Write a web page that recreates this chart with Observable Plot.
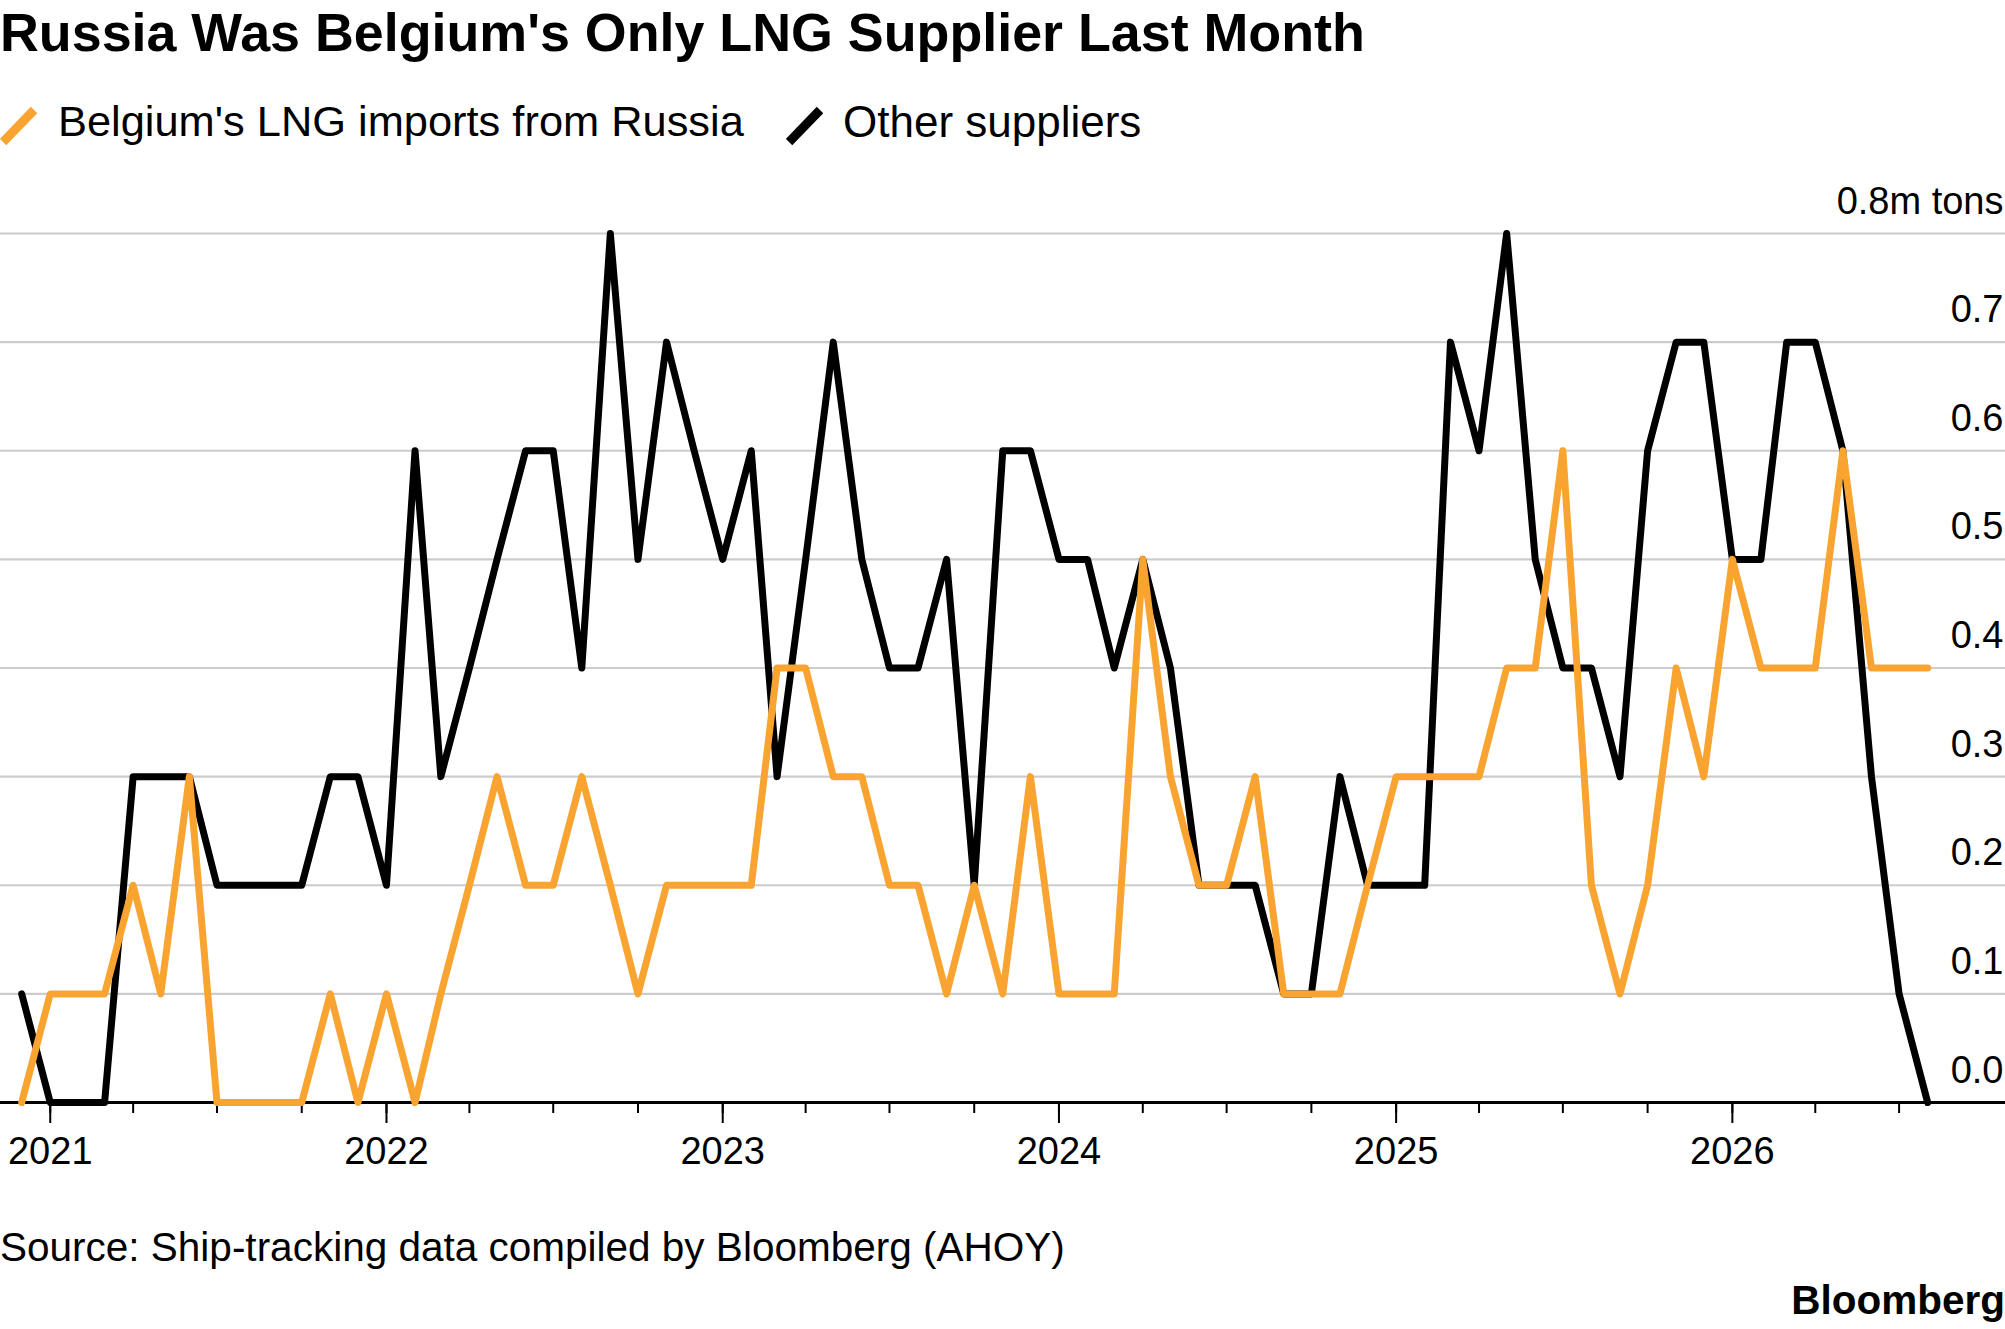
<!DOCTYPE html>
<html>
<head>
<meta charset="utf-8">
<script src="https://cdn.jsdelivr.net/npm/d3@7"></script>
<script src="https://cdn.jsdelivr.net/npm/@observablehq/plot@0.6"></script>
<style>
  html, body { margin: 0; padding: 0; background: #fff; }
  #wrap { position: relative; width: 2005px; height: 1329px; font-family: "Liberation Sans", Arial, Helvetica, sans-serif; color: #000; overflow: hidden; }
  .abs { position: absolute; line-height: 1; white-space: nowrap; }
  #title { left: 0; top: 6px; font-size: 53.8px; font-weight: bold; }
  .leg { top: 100px; font-size: 44px; }
  #source { left: 0; top: 1227px; font-size: 40.5px; }
  #brand { right: 0; top: 1280px; font-size: 40.5px; font-weight: bold; }
  #chart { position: absolute; left: 0; top: 150px; }
</style>
</head>
<body>
<div id="wrap">
  <div id="title" class="abs">Russia Was Belgium's Only LNG Supplier Last Month</div>
  <svg class="abs" style="left:0;top:105px" width="40" height="42"><line x1="3" y1="37" x2="34" y2="5" stroke="#f9a431" stroke-width="9"/></svg>
  <div class="abs leg" style="left:58px;font-size:43.4px">Belgium's LNG imports from Russia</div>
  <svg class="abs" style="left:786px;top:105px" width="40" height="42"><line x1="3" y1="37" x2="34" y2="5" stroke="#000" stroke-width="9"/></svg>
  <div class="abs leg" style="left:843px">Other suppliers</div>
  <div id="chart"></div>
  <div id="source" class="abs">Source: Ship-tracking data compiled by Bloomberg (AHOY)</div>
  <div id="brand" class="abs">Bloomberg</div>
</div>
<script>
// Monthly values, Dec 2020 through Aug 2026 (million tons)
const startMonth = "2020-12-01";
const endMonth = "2026-09-01";
const russia = [
  0, 0.1, 0.1, 0.1, 0.2, 0.1, 0.3, 0, 0, 0,
  0, 0.1, 0, 0.1, 0, 0.1, 0.2, 0.3, 0.2, 0.2,
  0.3, 0.2, 0.1, 0.2, 0.2, 0.2, 0.2, 0.4, 0.4, 0.3,
  0.3, 0.2, 0.2, 0.1, 0.2, 0.1, 0.3, 0.1, 0.1, 0.1,
  0.5, 0.3, 0.2, 0.2, 0.3, 0.1, 0.1, 0.1, 0.2, 0.3,
  0.3, 0.3, 0.3, 0.4, 0.4, 0.6, 0.2, 0.1, 0.2, 0.4,
  0.3, 0.5, 0.4, 0.4, 0.4, 0.6, 0.4, 0.4, 0.4
];
const other = [
  0.1, 0, 0, 0, 0.3, 0.3, 0.3, 0.2, 0.2, 0.2,
  0.2, 0.3, 0.3, 0.2, 0.6, 0.3, 0.4, 0.5, 0.6, 0.6,
  0.4, 0.8, 0.5, 0.7, 0.6, 0.5, 0.6, 0.3, 0.5, 0.7,
  0.5, 0.4, 0.4, 0.5, 0.2, 0.6, 0.6, 0.5, 0.5, 0.4,
  0.5, 0.4, 0.2, 0.2, 0.2, 0.1, 0.1, 0.3, 0.2, 0.2,
  0.2, 0.7, 0.6, 0.8, 0.5, 0.4, 0.4, 0.3, 0.6, 0.7,
  0.7, 0.5, 0.5, 0.7, 0.7, 0.6, 0.3, 0.1, 0
];
const yTicks = [0, 0.1, 0.2, 0.3, 0.4, 0.5, 0.6, 0.7, 0.8];
const yearTicks = ["2021-01-01", "2022-01-01", "2023-01-01", "2024-01-01", "2025-01-01", "2026-01-01"];
const firstQuarter = "2021-01-01";
const lastQuarter = "2026-07-01";

const months = d3.utcMonth.range(new Date(startMonth), new Date(endMonth));
const data = months.map((d, i) => ({date: d, russia: russia[i], other: other[i]}));
const quarterTicks = d3.utcMonth.every(3).range(new Date(firstQuarter), d3.utcDay.offset(new Date(lastQuarter), 1));
const years = yearTicks.map(d => new Date(d));

const orange = "#f9a431";

const chart = Plot.plot({
  width: 2005,
  height: 1050,
  marginLeft: 0,
  marginRight: 0,
  marginTop: 83,
  marginBottom: 98,
  x: {type: "utc", domain: [new Date("2020-11-08"), new Date("2026-10-24T12:00Z")]},
  y: {domain: [0, 0.8]},
  style: {fontFamily: "'Liberation Sans', Arial, sans-serif", fontSize: "38px", color: "#000", background: "transparent", overflow: "visible"},
  marks: [
    Plot.gridY(yTicks.filter(d => d > 0), {stroke: "#cccccc", strokeOpacity: 1, strokeWidth: 2.2}),
    Plot.axisY(yTicks, {
      anchor: "right", tickSize: 0, tickPadding: 0, textAnchor: "end", lineAnchor: "bottom",
      dx: -2, dy: -20, fontSize: 38,
      tickFormat: d => d === 0.8 ? "0.8m tons" : d.toFixed(1), label: null
    }),
    Plot.axisX(quarterTicks, {tickSize: 11, strokeWidth: 2, tickFormat: () => "", label: null}),
    Plot.axisX(years, {tickSize: 21, strokeWidth: 2, tickPadding: 14, fontSize: 38, tickFormat: d3.utcFormat("%Y"), label: null}),
    Plot.ruleY([0], {stroke: "#000", strokeWidth: 3}),
    Plot.lineY(data, {x: "date", y: "other", stroke: "#000", strokeWidth: 7}),
    Plot.lineY(data, {x: "date", y: "russia", stroke: orange, strokeWidth: 7})
  ]
});
document.getElementById("chart").appendChild(chart);
</script>
</body>
</html>
